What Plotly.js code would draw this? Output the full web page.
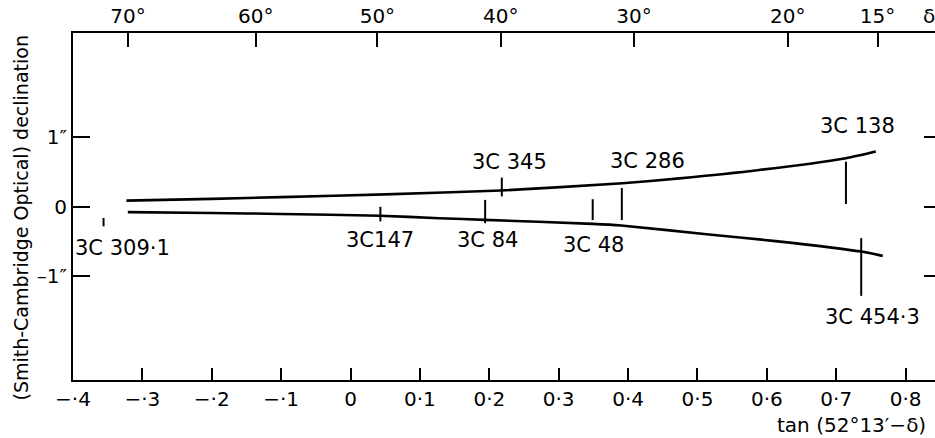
<!DOCTYPE html>
<html>
<head>
<meta charset="utf-8">
<script src="https://cdn.plot.ly/plotly-3.0.1.min.js"></script>
<style>
  html, body { margin: 0; padding: 0; background: #fff; overflow: hidden; }
  #chart { width: 945px; height: 438px; }
</style>
</head>
<body>
<div id="chart"></div>
<script>
// ---- data ----
const upperX = [-0.323, -0.2, -0.1, 0.05, 0.217, 0.392, 0.474, 0.589, 0.714, 0.757];
const upperY = [0.09, 0.115, 0.14, 0.18, 0.235, 0.34, 0.41, 0.53, 0.70, 0.795];
const lowerX = [-0.321, -0.2, -0.1, 0.042, 0.128, 0.193, 0.349, 0.39, 0.513, 0.609, 0.736, 0.767];
const lowerY = [-0.076, -0.088, -0.102, -0.127, -0.163, -0.187, -0.245, -0.269, -0.393, -0.489, -0.643, -0.705];

const srcNames = ["3C 309·1", "3C147", "3C 84", "3C 345", "3C 48", "3C 286", "3C 138", "3C 454·3"];
const srcX     = [-0.356, 0.043, 0.194, 0.218, 0.349, 0.391, 0.714, 0.736];
const srcHi    = [-0.16, 0.0, 0.10, 0.42, 0.11, 0.27, 0.65, -0.45];
const srcLo    = [-0.28, -0.21, -0.235, 0.15, -0.19, -0.19, 0.04, -1.28];

const bottomTickVals = [-0.4, -0.3, -0.2, -0.1, 0, 0.1, 0.2, 0.3, 0.4, 0.5, 0.6, 0.7, 0.8];
const bottomTickText = ["−·4", "−·3", "−·2", "−·1", "0", "0·1", "0·2", "0·3", "0·4", "0·5", "0·6", "0·7", "0·8"];
const declTicks = [70, 60, 50, 40, 30, 20, 15];
const declTickText = ["70°", "60°", "50°", "40°", "30°", "20°", "15°"];
const yTickVals = [-1, 0, 1];
const yTickText = ["–1″", "0", "1″"];

// top axis: x = tan(52°13' − δ)
const refDec = 52 + 13 / 60;
const declTickVals = declTicks.map(d => Math.tan((refDec - d) * Math.PI / 180));

// ---- label placement (style) ----
const labelPlace = [
  {end: "lo", dx: 19, dy: 22},
  {end: "lo", dx: 0, dy: 19},
  {end: "lo", dx: 2, dy: 17},
  {end: "hi", dx: 8, dy: -16},
  {end: "lo", dx: 1, dy: 25},
  {end: "hi", dx: 26, dy: -27},
  {end: "hi", dx: 12, dy: -36},
  {end: "lo", dx: 11, dy: 21}
];

const FONT = "DejaVu Sans, sans-serif";
const ML = 73, MR = 4, MT = 33, MB = 58, W = 945, H = 438;
const PW = W - ML - MR;
const xRange = [-0.4, 0.851];
const yRange = [-2.49, 2.50];

const segX = [], segY = [];
srcX.forEach((x, i) => { segX.push(x, x, null); segY.push(srcHi[i], srcLo[i], null); });

const traces = [
  {x: upperX, y: upperY, mode: "lines", line: {color: "#000", width: 2.6, shape: "spline", smoothing: 0.6}, hoverinfo: "skip", showlegend: false},
  {x: lowerX, y: lowerY, mode: "lines", line: {color: "#000", width: 2.6, shape: "spline", smoothing: 0.6}, hoverinfo: "skip", showlegend: false},
  {x: segX, y: segY, mode: "lines", line: {color: "#000", width: 2}, hoverinfo: "skip", showlegend: false},
  {x: xRange, y: [0, 0], mode: "none", xaxis: "x2", hoverinfo: "skip", showlegend: false}
];

const annotations = srcNames.map((name, i) => {
  const p = labelPlace[i];
  return {
    x: srcX[i], y: p.end === "hi" ? srcHi[i] : srcLo[i],
    xref: "x", yref: "y", text: name, showarrow: false,
    xanchor: "center", yanchor: "middle",
    xshift: p.dx, yshift: -p.dy,
    font: {family: FONT, size: 21, color: "#000"}
  };
});
annotations.push({
  text: "tan (52°13′−δ)", xref: "paper", yref: "paper", x: (928 - ML) / PW, y: 0,
  xanchor: "right", yanchor: "middle", yshift: -(425 - (H - MB)), showarrow: false,
  font: {family: FONT, size: 20, color: "#000"}
});
annotations.push({
  text: "(Smith-Cambridge Optical) declination", xref: "paper", yref: "paper",
  x: 0, xshift: -(ML - 20), y: 0.5, yshift: -12, textangle: -90,
  xanchor: "center", yanchor: "middle", showarrow: false,
  font: {family: FONT, size: 19, color: "#000"}
});
annotations.push({
  text: "δ", xref: "paper", yref: "paper", x: (921 - ML) / PW, y: 1,
  xanchor: "left", yanchor: "bottom", yshift: 3, showarrow: false,
  font: {family: FONT, size: 20, color: "#000"}
});

const layout = {
  width: W, height: H,
  margin: {l: ML, r: MR, t: MT, b: MB, pad: 0},
  paper_bgcolor: "#fff", plot_bgcolor: "#fff",
  font: {family: FONT, size: 20, color: "#000"},
  showlegend: false,
  xaxis: {
    range: xRange, showgrid: false, zeroline: false,
    showline: true, linewidth: 2, linecolor: "#000",
    ticks: "inside", ticklen: 12, tickwidth: 2, tickcolor: "#000",
    tickvals: bottomTickVals, ticktext: bottomTickText,
    tickfont: {family: FONT, size: 20, color: "#000"}
  },
  xaxis2: {
    range: xRange, overlaying: "x", side: "top", anchor: "y",
    showgrid: false, zeroline: false,
    showline: true, linewidth: 2, linecolor: "#000",
    ticks: "inside", ticklen: 14, tickwidth: 2, tickcolor: "#000",
    tickvals: declTickVals, ticktext: declTickText,
    tickfont: {family: FONT, size: 20, color: "#000"}
  },
  yaxis: {
    range: yRange, showgrid: false, zeroline: false,
    showline: true, linewidth: 2, linecolor: "#000", mirror: "ticks",
    ticks: "inside", ticklen: 17, tickwidth: 2, tickcolor: "#000",
    tickvals: yTickVals, ticktext: yTickText,
    tickfont: {family: FONT, size: 20, color: "#000"}
  },
  annotations: annotations
};

Plotly.newPlot("chart", traces, layout, {staticPlot: true, displayModeBar: false});
</script>
</body>
</html>
